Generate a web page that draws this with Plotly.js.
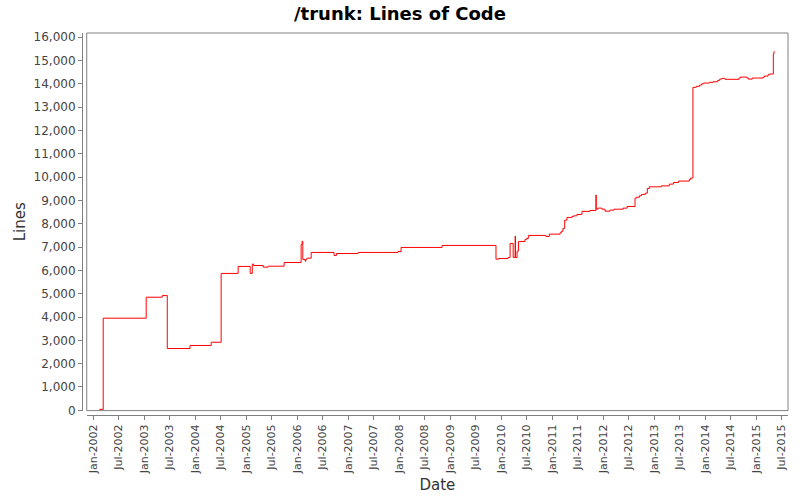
<!DOCTYPE html>
<html>
<head>
<meta charset="utf-8">
<script src="https://cdn.plot.ly/plotly-3.0.1.min.js"></script>
<style>html,body{margin:0;padding:0;background:#fff;}#chart{width:800px;height:500px;}</style>
</head>
<body>
<div id="chart"></div>
<script>
const dates = [
 '2002-02-13','2002-03-13','2003-01-15','2003-05-10','2003-06-15','2003-11-25','2004-04-25','2004-07-05',
 '2004-11-04','2005-01-29','2005-02-13','2005-02-23','2005-05-02','2005-06-07','2005-09-29','2006-01-29',
 '2006-02-05','2006-02-10','2006-02-27','2006-03-04','2006-03-13','2006-04-11','2006-09-22','2006-10-09',
 '2007-03-13','2007-12-24','2008-01-15','2008-11-04','2009-11-25','2009-12-14','2010-02-20','2010-03-06',
 '2010-03-28','2010-04-11','2010-04-14','2010-04-25','2010-05-05','2010-06-21','2010-07-01','2010-07-15',
 '2010-11-18','2010-12-12','2011-02-27','2011-03-08','2011-03-20','2011-04-01','2011-04-17','2011-05-23',
 '2011-06-03','2011-06-28','2011-08-03','2011-09-29','2011-11-11','2011-11-13','2011-11-25','2011-12-24',
 '2012-01-15','2012-02-20','2012-03-20','2012-05-23','2012-06-21','2012-08-17','2012-08-27','2012-09-18',
 '2012-10-02','2012-10-30','2012-11-13','2012-11-28','2013-02-22','2013-04-20','2013-05-19','2013-06-24',
 '2013-09-10','2013-09-20','2013-10-06','2013-10-30','2013-11-23','2013-12-08','2013-12-22','2014-02-01',
 '2014-02-27','2014-04-01','2014-04-16','2014-04-30','2014-05-23','2014-09-01','2014-09-11','2014-10-28',
 '2014-11-07','2014-12-05','2015-02-20','2015-03-02','2015-03-28','2015-04-04','2015-05-05','2015-05-09',
 '2015-05-13'
];
const lines = [
 40,3950,4850,4920,2650,2780,2920,5870,
 6170,5870,6270,6210,6140,6180,6340,7110,
 7250,6470,6395,6490,6525,6770,6640,6725,
 6770,6810,6985,7070,6480,6510,6555,7155,
 6555,7470,6555,6825,7240,7325,7370,7500,
 7455,7555,7610,7680,7800,8155,8270,8310,
 8340,8400,8530,8570,9230,8625,8670,8625,
 8540,8585,8625,8670,8740,9100,9140,9200,
 9260,9315,9515,9585,9625,9700,9770,9830,
 9900,9960,13850,13895,13950,14005,14035,14065,
 14090,14150,14205,14235,14195,14250,14290,14250,
 14205,14250,14290,14335,14390,14420,15280,15380,
 15380
];
const chartTitle = '/trunk: Lines of Code';
const xTitle = 'Date';
const yTitle = 'Lines';

const gray = '#808080';
const txt = '#444444';
const font = 'DejaVu Sans, sans-serif';

Plotly.newPlot('chart', [{
  x: dates, y: lines, type: 'scatter', mode: 'lines',
  line: {shape: 'hv', color: '#ff0000', width: 1},
  hoverinfo: 'x+y'
}], {
  width: 800, height: 500,
  paper_bgcolor: '#ffffff', plot_bgcolor: '#ffffff',
  margin: {l: 82, r: 12, t: 33, b: 85, pad: 0},
  showlegend: false,
  title: {text: '<b>' + chartTitle + '</b>', x: 0.5, xanchor: 'center', y: 0.972, yanchor: 'middle',
          font: {family: font, size: 18, color: '#000'}},
  xaxis: {
    domain: [0.0067, 1], anchor: 'free', position: 0,
    type: 'date', range: ['2001-11-15', '2015-08-18'],
    tick0: '2002-01-01', dtick: 'M6', tickformat: '%b-%Y', tickangle: -90,
    showgrid: false, zeroline: false, showline: true, linecolor: gray, linewidth: 1,
    ticks: 'outside', ticklen: 4, tickcolor: gray,
    tickfont: {family: font, size: 11, color: txt},
    title: {text: xTitle, font: {family: font, size: 15, color: '#333'}, standoff: 6}
  },
  yaxis: {
    domain: [0.0115, 1], anchor: 'free', position: 0,
    range: [-13, 16181], dtick: 1000, tick0: 0, tickformat: ',d',
    showgrid: false, zeroline: false, showline: true, linecolor: gray, linewidth: 1,
    ticks: 'outside', ticklen: 4, tickcolor: gray,
    tickfont: {family: font, size: 12, color: txt},
    title: {text: yTitle, font: {family: font, size: 15, color: '#333'}, standoff: 3}
  },
  shapes: [{type: 'rect', xref: 'x domain', yref: 'y domain', x0: 0, x1: 1, y0: 0, y1: 1,
            line: {color: gray, width: 1}, fillcolor: 'rgba(0,0,0,0)'}]
}, {displayModeBar: false, staticPlot: true});
</script>
</body>
</html>
